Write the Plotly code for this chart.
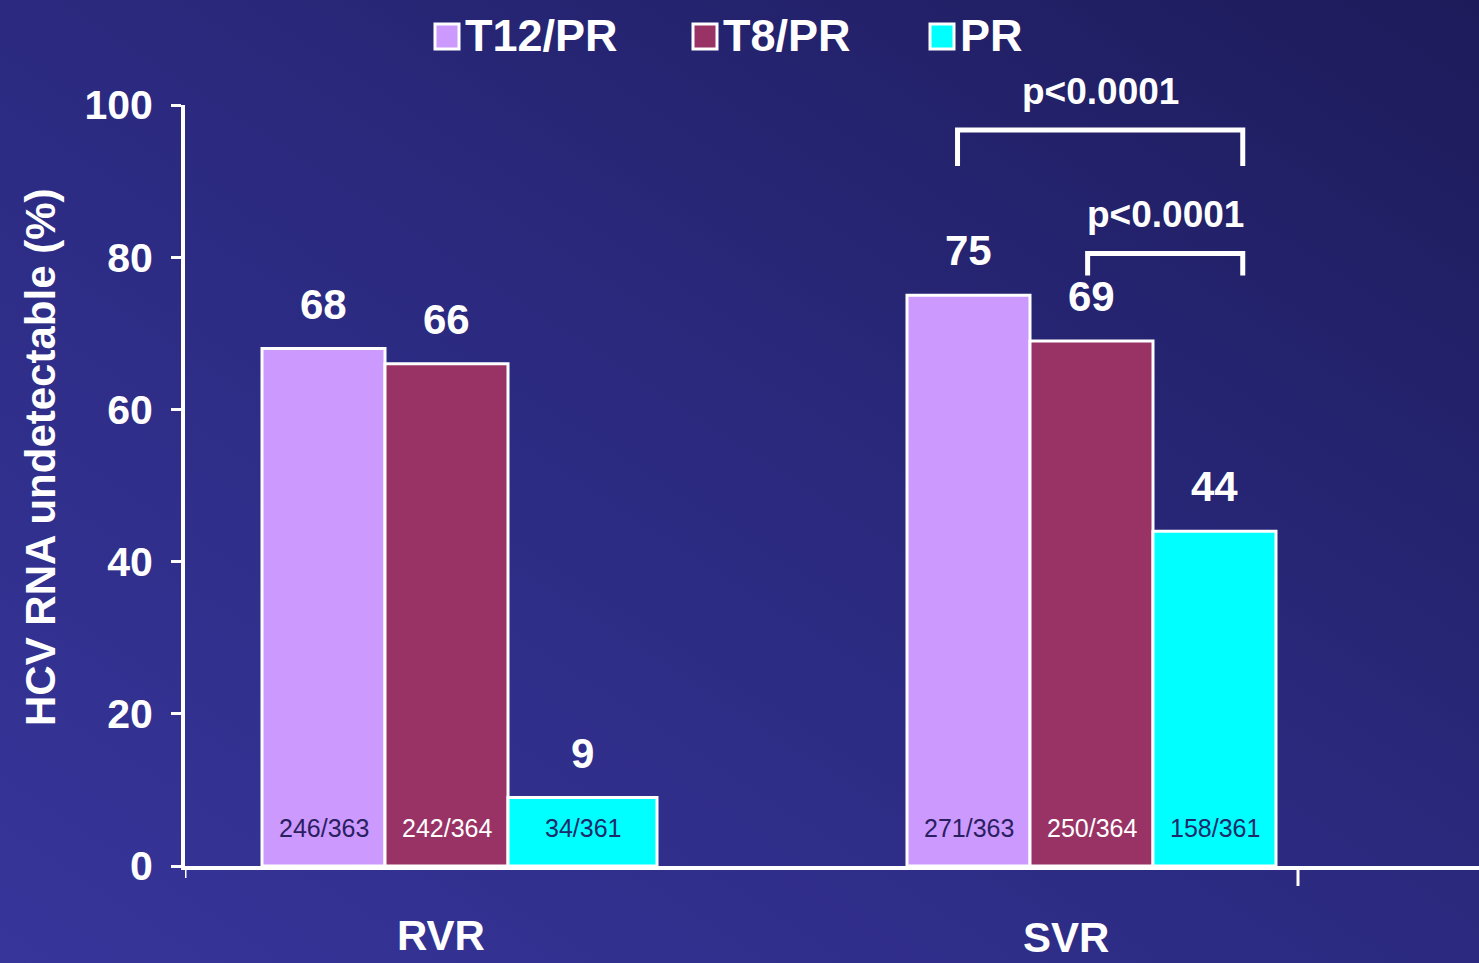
import base64
import plotly.graph_objects as go

# ---- data ----
categories = ["RVR", "SVR"]
series_names = ["T12/PR", "T8/PR", "PR"]
t12_values = [68, 75]
t8_values = [66, 69]
pr_values = [9, 44]
t12_counts = ["246/363", "271/363"]
t8_counts = ["242/364", "250/364"]
pr_counts = ["34/361", "158/361"]
y_ticks = [0, 20, 40, 60, 80, 100]
p_labels = ["p<0.0001", "p<0.0001"]

series_values = [t12_values, t8_values, pr_values]
series_counts = [t12_counts, t8_counts, pr_counts]
colors = ["#cc99ff", "#993366", "#00ffff"]
count_colors = ["#2a2060", "#ffffff", "#1c2a6a"]

W, H = 1479, 963
ML, MR, MT, MB = 185, 0, 105, 97
PW, PH = W - ML - MR, H - MT - MB

BAR_W = 0.1907
offsets = [-1.5 * BAR_W, -0.5 * BAR_W, 0.5 * BAR_W]
# per-bar widths (the RVR PR bar is drawn a little wider in the original)
widths = [[BAR_W, BAR_W], [BAR_W, BAR_W], [0.231, BAR_W]]

FONT = "Liberation Sans, Arial, sans-serif"


def px_x(px):
    return (px - ML) / PW


def px_y(py):
    return (H - MB - py) / PH


fig = go.Figure()
for name, vals, col, off, wd in zip(series_names, series_values, colors, offsets, widths):
    fig.add_trace(go.Bar(
        name=name, x=categories, y=vals,
        width=wd, offset=off, showlegend=False,
        marker=dict(color=col, line=dict(color="white", width=3)),
        hoverinfo="x+y+name",
    ))

annotations = []
shapes = []

# value labels above bars and count labels inside bars
for vals, counts, off, wd, ccol in zip(series_values, series_counts, offsets, widths, count_colors):
    for i, (v, c, w) in enumerate(zip(vals, counts, wd)):
        xc = i + off + w / 2
        annotations.append(dict(
            x=xc, y=v, xref="x", yref="y", text=str(v), showarrow=False,
            yanchor="bottom", yshift=19,
            font=dict(family=FONT, size=42, color="white", weight="bold")))
        annotations.append(dict(
            x=xc, y=0, xref="x", yref="y", text=c, showarrow=False,
            yanchor="middle", yshift=38,
            font=dict(family=FONT, size=25, color=ccol)))

# category labels
cat_shift = [(-6, -0.0907), (-26, -0.0945)]
for i, (cat, (xs, yp)) in enumerate(zip(categories, cat_shift)):
    annotations.append(dict(
        x=i, y=yp, xref="x", yref="paper", text=cat, showarrow=False,
        xshift=xs, yanchor="middle",
        font=dict(family=FONT, size=42, color="white", weight="bold")))

# y-axis title
annotations.append(dict(
    x=px_x(40), y=px_y(457), xref="paper", yref="paper",
    text="HCV RNA undetectable (%)", textangle=-90, showarrow=False,
    xanchor="center", yanchor="middle",
    font=dict(family=FONT, size=42, color="white", weight="bold")))

# legend (squares + labels)
legend_sq_left = [435, 693, 930]
for name, col, sx in zip(series_names, colors, legend_sq_left):
    shapes.append(dict(
        type="rect", xref="paper", yref="paper",
        x0=px_x(sx), x1=px_x(sx + 24), y0=px_y(49), y1=px_y(24),
        fillcolor=col, line=dict(color="white", width=3)))
    annotations.append(dict(
        x=px_x(sx + 28), y=px_y(36), xref="paper", yref="paper",
        text=name, showarrow=False, xanchor="left", yanchor="middle",
        font=dict(family=FONT, size=45, color="white", weight="bold")))

# significance brackets (SVR group)
svr = 1
bracket_right = svr + 0.2345
brackets = [
    (svr + offsets[0] + BAR_W / 2 - 0.017, 96.7, 92.0),
    (svr + offsets[1] + BAR_W / 2 - 0.006, 80.5, 77.6),
]
for (x0, ytop, yleg), lab in zip(brackets, p_labels):
    x1 = bracket_right
    shapes.append(dict(
        type="path", xref="x", yref="y",
        path=f"M {x0},{yleg} L {x0},{ytop} L {x1},{ytop} L {x1},{yleg}",
        line=dict(color="white", width=5)))
    annotations.append(dict(
        x=(x0 + x1) / 2, y=ytop, xref="x", yref="y", text=lab, showarrow=False,
        yanchor="bottom", yshift=16,
        font=dict(family=FONT, size=37, color="white", weight="bold")))

# extra x-axis tick marks
x_left = -(446.5 - ML) / 645
x_tick2 = (1298 - 446.5) / 645
for xv, y1 in [(x_left, -12 / PH), (x_tick2, -20 / PH)]:
    shapes.append(dict(type="line", xref="x", yref="paper", x0=xv, x1=xv,
                       y0=0, y1=y1, line=dict(color="white", width=3)))

# gradient background image
svg = (
    f"<svg xmlns='http://www.w3.org/2000/svg' width='{W}' height='{H}' "
    f"viewBox='0 0 {W} {H}' preserveAspectRatio='none'>"
    "<defs><linearGradient id='g' x1='0' y1='1' x2='1' y2='0'>"
    "<stop offset='0' stop-color='#37359a'/>"
    "<stop offset='0.5' stop-color='#2b2a80'/>"
    "<stop offset='1' stop-color='#1d1b5a'/>"
    "</linearGradient></defs>"
    f"<rect x='0' y='0' width='{W}' height='{H}' fill='url(#g)'/></svg>"
)
src = "data:image/svg+xml;base64," + base64.b64encode(svg.encode()).decode()

fig.update_layout(
    width=W, height=H,
    margin=dict(l=ML, r=MR, t=MT, b=MB, pad=0),
    paper_bgcolor="#2a2878",
    plot_bgcolor="rgba(0,0,0,0)",
    barmode="group",
    showlegend=False,
    xaxis=dict(
        range=[x_left, (W - MR - 446.5) / 645],
        showticklabels=False, ticks="", showgrid=False, zeroline=False,
        showline=True, linecolor="white", linewidth=4,
    ),
    yaxis=dict(
        range=[0, 100], tickvals=y_ticks, ticks="outside", ticklen=10,
        tickwidth=3, tickcolor="white", showgrid=False, zeroline=False,
        showline=True, linecolor="white", linewidth=4,
        tickfont=dict(family=FONT, size=41, color="white", weight="bold"),
        ticklabelstandoff=10,
    ),
    annotations=annotations,
    shapes=shapes,
    images=[dict(
        source=src, xref="paper", yref="paper",
        x=-ML / PW, y=1 + MT / PH, sizex=W / PW, sizey=H / PH,
        xanchor="left", yanchor="top", sizing="stretch", layer="below")],
)

fig.write_html(
    "out.html",
    config={"displayModeBar": False},
    post_script="document.body.style.margin='0';document.body.style.overflow='hidden';",
)
